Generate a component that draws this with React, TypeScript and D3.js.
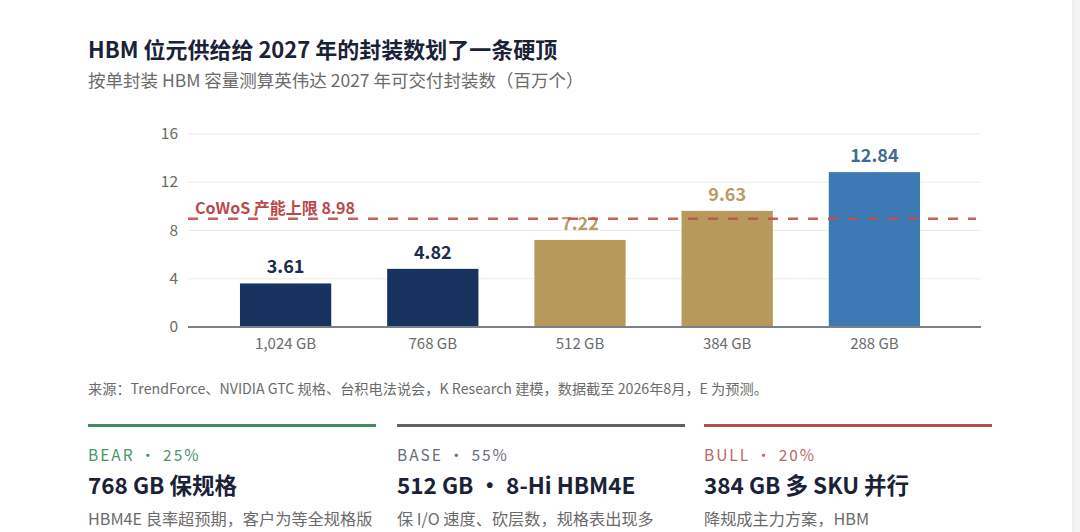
import * as d3 from "d3";
import React, { useEffect, useRef } from "react";

// chart data
const categories = ["1,024 GB", "768 GB", "512 GB", "384 GB", "288 GB"];
const packages = [3.61, 4.82, 7.22, 9.63, 12.84];
const barColors = ["#17325e", "#17325e", "#b8995c", "#b8995c", "#3d7ab5"];
const labelColors = ["#1b2c4c", "#1b2c4c", "#b79c66", "#b79c66", "#3f6c97"];
const yTicks = [0, 4, 8, 12, 16];
const cowosCap = 8.98;

// scenario cards
const scenarioTags = ["BEAR · 25%", "BASE · 55%", "BULL · 20%"];
const scenarioTitles = ["768 GB 保规格", "512 GB · 8-Hi HBM4E", "384 GB 多 SKU 并行"];
const scenarioTexts = ["HBM4E 良率超预期，客户为等全规格版", "保 I/O 速度、砍层数，规格表出现多", "降规成主力方案，HBM"];
const scenarioColors = ["#3f8c5e", "#5f6170", "#b5504f"];
const scenarioTagColors = ["#4a9468", "#6a6c78", "#b86a68"];

const W = 1080, H = 532;
const font = "'Noto Sans CJK SC', 'Noto Sans', sans-serif";

function drawChart(el: SVGSVGElement) {
  const svg = d3.select(el);
  svg.selectAll("*").remove();

  svg.append("rect").attr("width", W).attr("height", H).attr("fill", "#fff");
  svg.append("rect").attr("x", 1073).attr("width", 7).attr("height", H).attr("fill", "#f4f4f4");
  svg.append("line").attr("x1", 1073).attr("x2", 1073).attr("y1", 0).attr("y2", H).attr("stroke", "#e4e4e4");

  // titles
  svg.append("text").attr("x", 88).attr("y", 58).attr("font-size", 22).attr("font-weight", 700)
    .attr("fill", "#1a2238").text("HBM 位元供给给 2027 年的封装数划了一条硬顶");
  svg.append("text").attr("x", 88).attr("y", 87).attr("font-size", 17.5)
    .attr("fill", "#6b6b6b").text("按单封装 HBM 容量测算英伟达 2027 年可交付封装数（百万个）");

  const x = d3.scaleBand().domain(categories).range([212, 948]).paddingInner(0.38).paddingOuter(0.19);
  const y = d3.scaleLinear().domain([0, 16]).range([327, 134]);
  const gridX0 = 188, gridX1 = 981;

  // gridlines + y labels
  const g = svg.append("g");
  g.selectAll("line.grid").data(yTicks.filter(t => t > 0)).join("line")
    .attr("x1", gridX0).attr("x2", gridX1)
    .attr("y1", d => y(d)).attr("y2", d => y(d))
    .attr("stroke", "#ebebeb").attr("stroke-width", 1);
  g.selectAll("text.ytick").data(yTicks).join("text")
    .attr("x", 178).attr("y", d => y(d) + 5).attr("text-anchor", "end")
    .attr("font-size", 15.5).attr("fill", "#6b6b6b").text(d => d);

  // bars
  g.selectAll("rect.bar").data(packages).join("rect")
    .attr("x", (d, i) => x(categories[i])!)
    .attr("y", d => y(d))
    .attr("width", x.bandwidth())
    .attr("height", d => y(0) - y(d))
    .attr("fill", (d, i) => barColors[i]);

  // baseline
  g.append("line").attr("x1", gridX0).attr("x2", gridX1).attr("y1", y(0)).attr("y2", y(0))
    .attr("stroke", "#7d8088").attr("stroke-width", 2);

  // x labels
  g.selectAll("text.xlab").data(categories).join("text")
    .attr("x", d => x(d)! + x.bandwidth() / 2).attr("y", 349).attr("text-anchor", "middle")
    .attr("font-size", 15).attr("fill", "#6b6b6b").text(d => d);

  // value labels
  g.selectAll("text.val").data(packages).join("text")
    .attr("x", (d, i) => x(categories[i])! + x.bandwidth() / 2)
    .attr("y", d => y(d) - 10).attr("text-anchor", "middle")
    .attr("font-size", 18).attr("font-weight", 700)
    .attr("fill", (d, i) => labelColors[i]).text(d => d.toFixed(2));

  // CoWoS cap (drawn over bars and labels)
  g.append("line").attr("x1", gridX0).attr("x2", 976).attr("y1", y(cowosCap)).attr("y2", y(cowosCap))
    .attr("stroke", "#c0504d").attr("stroke-width", 2.5).attr("stroke-dasharray", "10,10").attr("opacity", 0.9);
  g.append("text").attr("x", 195).attr("y", y(cowosCap) - 5).attr("font-size", 16).attr("font-weight", 700)
    .attr("fill", "#b84a4a").text(`CoWoS 产能上限 ${cowosCap}`);

  // source
  svg.append("text").attr("x", 88).attr("y", 394).attr("font-size", 14.2).attr("fill", "#6b6b6b")
    .text("来源：TrendForce、NVIDIA GTC 规格、台积电法说会，K Research 建模，数据截至 2026年8月，E 为预测。");

  // scenario cards
  const cardX = [88, 397, 704];
  const cardW = 288;
  const cards = svg.selectAll("g.card").data(scenarioTags).join("g")
    .attr("transform", (d, i) => `translate(${cardX[i]},0)`);
  cards.append("rect").attr("y", 424).attr("width", cardW).attr("height", 3)
    .attr("fill", (d, i) => scenarioColors[i]);
  cards.append("text").attr("y", 461).attr("font-size", 15.5).attr("letter-spacing", 2)
    .attr("fill", (d, i) => scenarioTagColors[i]).text(d => d);
  cards.append("text").attr("y", 494).attr("font-size", 22.5).attr("font-weight", 700)
    .attr("fill", "#1a2238").text((d, i) => scenarioTitles[i]);
  cards.append("text").attr("y", 525).attr("font-size", 16.2)
    .attr("fill", "#6b6b6b").text((d, i) => scenarioTexts[i]);
}

export default function App() {
  const ref = useRef<SVGSVGElement>(null);
  useEffect(() => {
    if (ref.current) drawChart(ref.current);
  }, []);
  return (
    <svg ref={ref} width={W} height={H}
      style={{ position: "absolute", left: 0, top: 0, fontFamily: font }} />
  );
}
